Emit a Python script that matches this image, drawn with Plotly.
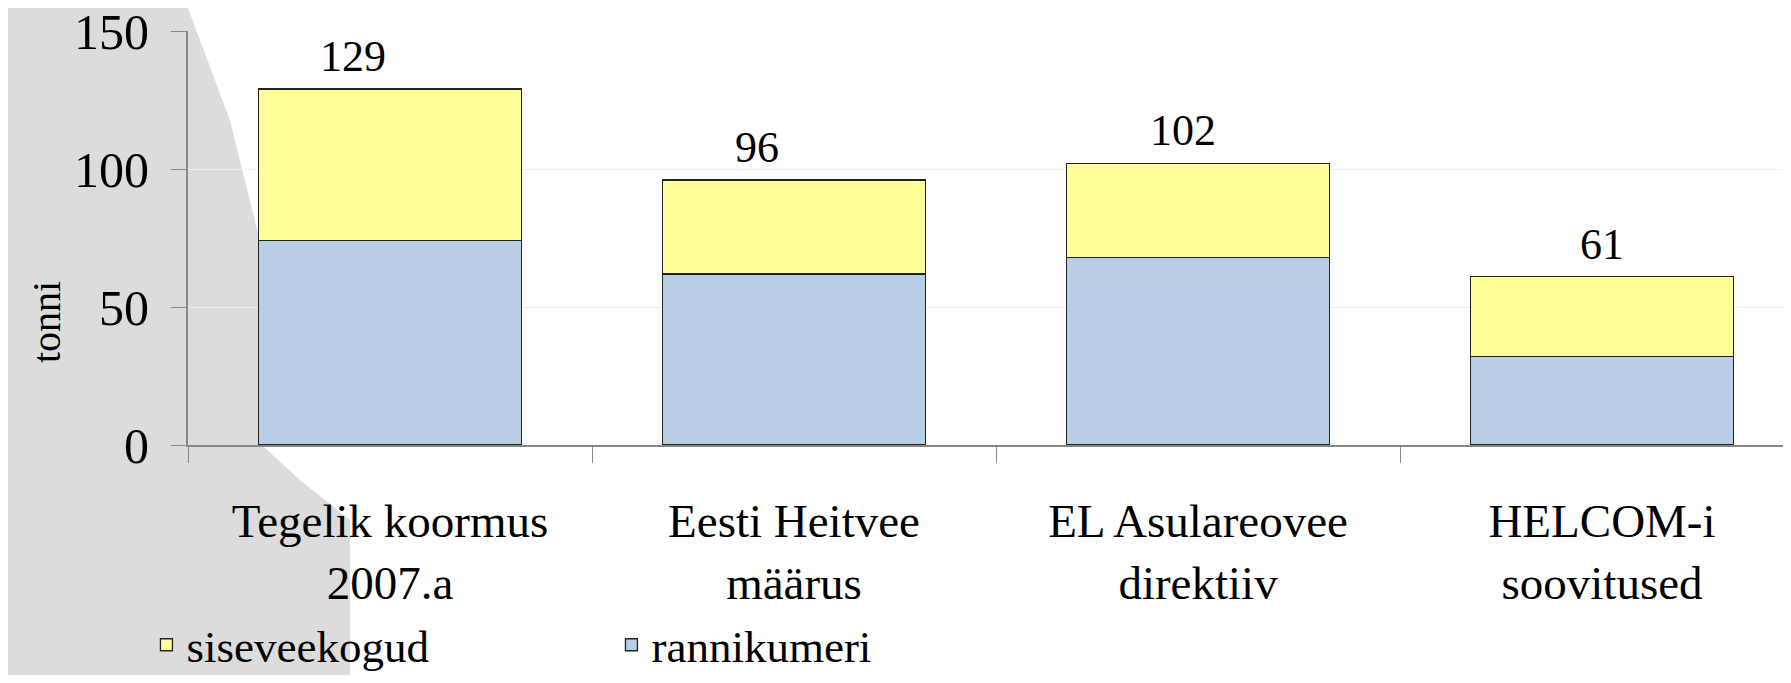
import plotly.graph_objects as go

# ---------------------------- data ---------------------------- #
categories = [
    "Tegelik koormus<br>2007.a",
    "Eesti Heitvee<br>määrus",
    "EL Asulareovee<br>direktiiv",
    "HELCOM-i<br>soovitused",
]
rannikumeri = [74, 62, 68, 32]
siseveekogud = [55, 34, 34, 29]
totals = [129, 96, 102, 61]

y_ticks = [0, 50, 100, 150]

# ---------------------------- layout helpers ---------------------------- #
# the page body has an 8px margin, so the figure is drawn 8px in from the corner
OFF = 8
W_FIG, H_FIG = 1791 - 2 * OFF, 683 - 2 * OFF
M_L, M_R, M_T, M_B = 188 - OFF, 0, 31 - OFF, 683 - 445 - OFF
plot_w = W_FIG - M_L - M_R
plot_h = H_FIG - M_T - M_B


def px2paper(px, py):
    # screen pixel -> paper coords
    return (px - OFF - M_L) / plot_w, (H_FIG - M_B - (py - OFF)) / plot_h


# grey decorative slide background on the left
bg_pts = [(0, 0), (185, 0), (230, 120), (262, 250), (262, 445), (300, 480),
          (350, 520), (350, 683), (0, 683)]
path = "M " + " L ".join("%.4f,%.4f" % px2paper(x, y) for x, y in bg_pts) + " Z"

FONT = "Liberation Serif, Times New Roman, serif"

fig = go.Figure()

fig.add_trace(go.Bar(
    x=categories, y=rannikumeri, name="rannikumeri",
    marker=dict(color="#B9CDE5", line=dict(color="#222222", width=1.3)),
))
fig.add_trace(go.Bar(
    x=categories, y=siseveekogud, name="siseveekogud",
    marker=dict(color="#FFFF99", line=dict(color="#222222", width=1.3)),
))

# total labels above the stacks
label_shift = [-37, -37, -15, 0]
for cat, tot, sh in zip(categories, totals, label_shift):
    fig.add_annotation(
        x=cat, y=tot, text=str(tot), showarrow=False,
        yanchor="bottom", yshift=6, xshift=sh,
        font=dict(family=FONT, size=44, color="black"),
    )

# y axis title
tx, ty = px2paper(46, 322)
fig.add_annotation(
    x=tx, y=ty, xref="paper", yref="paper", text="tonni", textangle=-90,
    xanchor="center", yanchor="middle",
    showarrow=False, font=dict(family=FONT, size=40, color="black"),
)

fig.update_layout(
    width=W_FIG, height=H_FIG,
    margin=dict(l=M_L, r=M_R, t=M_T, b=M_B, autoexpand=False),
    barmode="stack", bargap=0.35,
    paper_bgcolor="white", plot_bgcolor="rgba(0,0,0,0)",
    font=dict(family=FONT, color="black"),
    shapes=[dict(type="path", path=path, xref="paper", yref="paper",
                 fillcolor="#dcdcdc", line=dict(width=0), layer="below")],
    legend=dict(
        orientation="h", traceorder="reversed",
        xref="container", yref="container",
        x=0.078, y=(H_FIG - (645 - OFF)) / H_FIG, xanchor="left", yanchor="middle",
        font=dict(family=FONT, size=45, color="black"),
        entrywidth=420, entrywidthmode="pixels",
        bgcolor="rgba(0,0,0,0)",
    ),
)

fig.update_xaxes(
    range=[-0.5, 3.448], showgrid=False, automargin=False,
    showline=True, linecolor="#888888", linewidth=2,
    ticks="outside", tickson="boundaries", ticklen=16, tickcolor="#888888",
    tickfont=dict(family=FONT, size=47, color="black"),
    ticklabelstandoff=34,
)
fig.update_yaxes(
    range=[0, 150], tickvals=y_ticks, automargin=False,
    showgrid=True, gridcolor="#eeeeee", gridwidth=1,
    showline=True, linecolor="#888888", linewidth=2,
    ticks="outside", ticklen=15, tickcolor="#888888",
    tickfont=dict(family=FONT, size=50, color="black"),
    ticklabelstandoff=12, ticklabeloverflow="allow", zeroline=False,
)

fig.write_html("out.html")
